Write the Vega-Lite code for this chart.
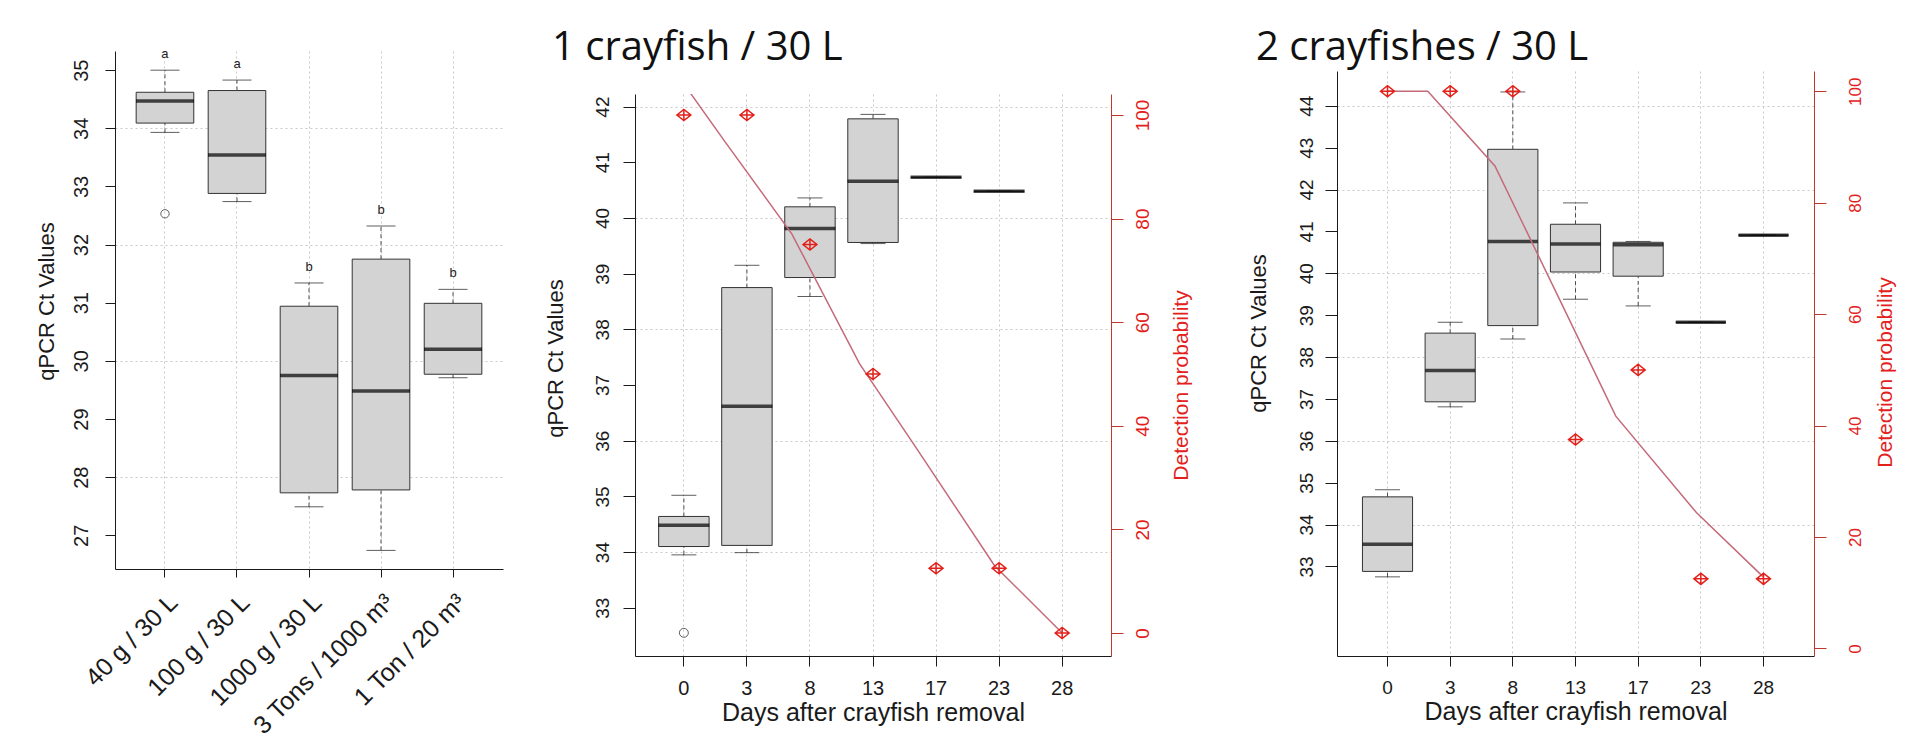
{
  "$schema": "https://vega.github.io/schema/vega-lite/v6.json",
  "background": "white",
  "padding": {"left": 34, "top": 27, "right": 5, "bottom": 5},
  "config": {
    "view": {"stroke": null},
    "axis": {
      "labelFont": "Liberation Sans", "titleFont": "Liberation Sans", "titleFontWeight": "normal",
      "labelColor": "#1a1a1a", "titleColor": "#1a1a1a", "domainColor": "#1a1a1a", "tickColor": "#1a1a1a",
      "labelOverlap": false, "labelFlush": false, "gridColor": "#c8c8c8", "gridDash": [2, 3], "gridWidth": 1
    },
    "title": {"font": "Open Sans", "fontSize": 40, "fontWeight": "normal", "anchor": "start", "frame": "group", "baseline": "alphabetic", "color": "#111111"}
  },
  "datasets": {
    "left_box": [
      {"group": "40 g / 30 L", "lo": 33.93, "q1": 34.09, "med": 34.47, "q3": 34.62, "hi": 35.0, "letter": "a"},
      {"group": "100 g / 30 L", "lo": 32.74, "q1": 32.88, "med": 33.54, "q3": 34.65, "hi": 34.83, "letter": "a"},
      {"group": "1000 g / 30 L", "lo": 27.49, "q1": 27.73, "med": 29.75, "q3": 30.94, "hi": 31.34, "letter": "b"},
      {"group": "3 Tons / 1000 m³", "lo": 26.74, "q1": 27.78, "med": 29.48, "q3": 31.75, "hi": 32.32, "letter": "b"},
      {"group": "1 Ton / 20 m³", "lo": 29.71, "q1": 29.77, "med": 30.2, "q3": 30.99, "hi": 31.23, "letter": "b"}
    ],
    "left_out": [{"group": "40 g / 30 L", "value": 32.53}],
    "mid_box": [
      {"day": "0", "lo": 33.95, "q1": 34.1, "med": 34.48, "q3": 34.64, "hi": 35.02},
      {"day": "3", "lo": 33.99, "q1": 34.12, "med": 36.62, "q3": 38.75, "hi": 39.15},
      {"day": "8", "lo": 38.59, "q1": 38.93, "med": 39.81, "q3": 40.2, "hi": 40.36},
      {"day": "13", "lo": 39.54, "q1": 39.56, "med": 40.66, "q3": 41.78, "hi": 41.86},
      {"day": "17", "lo": 40.73, "q1": 40.73, "med": 40.73, "q3": 40.73, "hi": 40.73},
      {"day": "23", "lo": 40.48, "q1": 40.48, "med": 40.48, "q3": 40.48, "hi": 40.48}
    ],
    "mid_out": [{"day": "0", "value": 32.55}],
    "mid_det": [
      {"day": "0", "pct": 100}, {"day": "3", "pct": 100}, {"day": "8", "pct": 75}, {"day": "13", "pct": 50},
      {"day": "17", "pct": 12.5}, {"day": "23", "pct": 12.5}, {"day": "28", "pct": 0}
    ],
    "mid_fit": [
      {"days": 0, "fit": 106}, {"days": 3, "fit": 95}, {"days": 8, "fit": 77}, {"days": 13, "fit": 52},
      {"days": 17, "fit": 36.5}, {"days": 23, "fit": 13}, {"days": 28, "fit": 0}
    ],
    "right_box": [
      {"day": "0", "lo": 32.75, "q1": 32.88, "med": 33.53, "q3": 34.66, "hi": 34.83},
      {"day": "3", "lo": 36.81, "q1": 36.93, "med": 37.68, "q3": 38.57, "hi": 38.83},
      {"day": "8", "lo": 38.43, "q1": 38.75, "med": 40.76, "q3": 42.96, "hi": 44.33},
      {"day": "13", "lo": 39.38, "q1": 40.03, "med": 40.7, "q3": 41.17, "hi": 41.68},
      {"day": "17", "lo": 39.22, "q1": 39.93, "med": 40.68, "q3": 40.74, "hi": 40.76},
      {"day": "23", "lo": 38.83, "q1": 38.83, "med": 38.83, "q3": 38.83, "hi": 38.83},
      {"day": "28", "lo": 40.91, "q1": 40.91, "med": 40.91, "q3": 40.91, "hi": 40.91}
    ],
    "right_det": [
      {"day": "0", "pct": 100}, {"day": "3", "pct": 100}, {"day": "8", "pct": 100}, {"day": "13", "pct": 37.5},
      {"day": "17", "pct": 50}, {"day": "23", "pct": 12.5}, {"day": "28", "pct": 12.5}
    ],
    "right_fit": [
      {"days": 0, "fit": 100}, {"days": 3, "fit": 100}, {"days": 8, "fit": 86.6}, {"days": 13, "fit": 61.7},
      {"days": 17, "fit": 41.7}, {"days": 23, "fit": 24.4}, {"days": 28, "fit": 12.8}
    ]
  },
  "spacing": 40,
  "hconcat": [
    {
      "width": 388,
      "height": 518,
      "data": {"name": "left_box"},
      "encoding": {
        "x": {
          "field": "group", "type": "nominal", "sort": null,
          "scale": {"type": "band", "domain": ["40 g / 30 L", "100 g / 30 L", "1000 g / 30 L", "3 Tons / 1000 m³", "1 Ton / 20 m³"], "paddingInner": 0.2, "paddingOuter": 0.294},
          "axis": {"title": null, "labelAngle": -45, "labelAlign": "right", "labelBaseline": "middle", "labelFontSize": 25, "labelLimit": 0, "tickSize": 8, "labelPadding": 21, "labelOffset": 8.5, "grid": true, "bandPosition": 0.5}
        }
      },
      "layer": [
        {
          "mark": {"type": "rule", "color": "#4d4d4d", "strokeDash": [4, 3]},
          "encoding": {
            "y": {
              "field": "lo", "type": "quantitative",
              "scale": {"domain": [26.42, 35.33], "nice": false, "zero": false},
              "axis": {
                "title": "qPCR Ct Values", "values": [27, 28, 29, 30, 31, 32, 33, 34, 35], "format": "d", "labelAngle": -90,
                "labelFontSize": 20, "titleFontSize": 22, "tickSize": 10, "labelPadding": 13.5, "titlePadding": 13.5, "titleY": 250,
                "grid": true, "gridOpacity": {"condition": {"test": "datum.value % 2 === 0", "value": 1}, "value": 0}
              }
            },
            "y2": {"field": "q1"}
          }
        },
        {
          "mark": {"type": "rule", "color": "#4d4d4d", "strokeDash": [4, 3]},
          "encoding": {"y": {"field": "q3", "type": "quantitative"}, "y2": {"field": "hi"}}
        },
        {
          "mark": {"type": "tick", "size": 29, "thickness": 1, "color": "#1a1a1a"},
          "encoding": {"y": {"field": "lo", "type": "quantitative"}}
        },
        {
          "mark": {"type": "tick", "size": 29, "thickness": 1, "color": "#1a1a1a"},
          "encoding": {"y": {"field": "hi", "type": "quantitative"}}
        },
        {
          "mark": {"type": "bar", "fill": "#d3d3d3", "stroke": "#333333", "strokeWidth": 1},
          "encoding": {"y": {"field": "q1", "type": "quantitative"}, "y2": {"field": "q3"}}
        },
        {
          "mark": {"type": "tick", "size": 58, "thickness": 3.5, "color": "#000000"},
          "encoding": {"y": {"field": "med", "type": "quantitative"}}
        },
        {
          "mark": {"type": "text", "dy": -16, "fontSize": 13, "font": "Liberation Sans", "color": "#1a1a1a"},
          "encoding": {"y": {"field": "hi", "type": "quantitative"}, "text": {"field": "letter"}}
        },
        {
          "data": {"name": "left_out"},
          "mark": {"type": "point", "shape": "circle", "filled": false, "size": 70, "color": "#1a1a1a", "strokeWidth": 1},
          "encoding": {"y": {"field": "value", "type": "quantitative"}}
        }
      ]
    },
    {
      "spacing": 0,
      "vconcat": [
        {
          "width": 571, "height": 43,
          "title": {"text": "1 crayfish / 30 L", "offset": -16.6, "dx": -83},
          "data": {"values": []}, "mark": "point"
        },
        {
          "width": 476,
          "height": 562,
          "layer": [
            {
              "data": {"name": "mid_box"},
              "encoding": {
                "x": {
                  "field": "day", "type": "ordinal", "sort": null,
                  "scale": {"type": "band", "domain": ["0", "3", "8", "13", "17", "23", "28"], "paddingInner": 0.2, "paddingOuter": 0.375},
                  "axis": {"title": "Days after crayfish removal", "titleFontSize": 25, "labelFontSize": 20, "labelAngle": 0, "tickSize": 10, "labelPadding": 12, "titlePadding": 2, "grid": true, "bandPosition": 0.5}
                }
              },
              "layer": [
                {
                  "mark": {"type": "rule", "color": "#4d4d4d", "strokeDash": [4, 3]},
                  "encoding": {
                    "y": {
                      "field": "lo", "type": "quantitative",
                      "scale": {"domain": [32.134, 42.226], "nice": false, "zero": false},
                      "axis": {
                        "title": "qPCR Ct Values", "values": [33, 34, 35, 36, 37, 38, 39, 40, 41, 42], "format": "d", "labelAngle": -90,
                        "labelFontSize": 19, "titleFontSize": 22, "tickSize": 12, "labelPadding": 11, "titlePadding": 26, "titleY": 264,
                        "grid": true, "gridOpacity": {"condition": {"test": "datum.value % 2 === 0", "value": 1}, "value": 0}
                      }
                    },
                    "y2": {"field": "q1"}
                  }
                },
                {
                  "mark": {"type": "rule", "color": "#4d4d4d", "strokeDash": [4, 3]},
                  "encoding": {"y": {"field": "q3", "type": "quantitative"}, "y2": {"field": "hi"}}
                },
                {
                  "mark": {"type": "tick", "size": 25, "thickness": 1, "color": "#1a1a1a"},
                  "encoding": {"y": {"field": "lo", "type": "quantitative"}}
                },
                {
                  "mark": {"type": "tick", "size": 25, "thickness": 1, "color": "#1a1a1a"},
                  "encoding": {"y": {"field": "hi", "type": "quantitative"}}
                },
                {
                  "mark": {"type": "bar", "fill": "#d3d3d3", "stroke": "#333333", "strokeWidth": 1},
                  "encoding": {"y": {"field": "q1", "type": "quantitative"}, "y2": {"field": "q3"}}
                },
                {
                  "mark": {"type": "tick", "size": 51, "thickness": 3.5, "color": "#000000"},
                  "encoding": {"y": {"field": "med", "type": "quantitative"}}
                },
                {
                  "data": {"name": "mid_out"},
                  "mark": {"type": "point", "shape": "circle", "filled": false, "size": 80, "color": "#1a1a1a", "strokeWidth": 1},
                  "encoding": {"y": {"field": "value", "type": "quantitative"}}
                }
              ]
            },
            {
              "data": {"name": "mid_fit"},
              "mark": {"type": "line", "clip": true, "color": "#c46a78", "strokeWidth": 1.5},
              "encoding": {
                "x": {"field": "days", "type": "quantitative", "scale": {"domain": [-3.617, 31.617], "nice": false, "zero": false}, "axis": null},
                "y": {"field": "fit", "type": "quantitative", "scale": {"domain": [-4.44, 104.05], "nice": false, "zero": false}, "axis": null}
              }
            },
            {
              "data": {"name": "mid_det"},
              "mark": {"type": "point", "shape": "M-1,0L0,-0.8L1,0L0,0.8ZM-1,0L1,0M0,-0.8L0,0.8", "filled": false, "size": 196, "color": "#e3211b", "strokeWidth": 1.5, "opacity": 1},
              "encoding": {
                "x": {
                  "field": "day", "type": "ordinal", "sort": null,
                  "scale": {"type": "band", "domain": ["0", "3", "8", "13", "17", "23", "28"], "paddingInner": 0.2, "paddingOuter": 0.375},
                  "axis": null
                },
                "y": {
                  "field": "pct", "type": "quantitative",
                  "scale": {"domain": [-4.44, 104.05], "nice": false, "zero": false},
                  "axis": {
                    "orient": "right", "title": "Detection probability", "values": [0, 20, 40, 60, 80, 100],
                    "labelAngle": -90, "titleAngle": -90, "titleBaseline": "top", "labelFontSize": 19, "titleFontSize": 21,
                    "tickSize": 12, "labelPadding": 10, "titlePadding": 18, "titleY": 291, "grid": false,
                    "labelColor": "#e3211b", "titleColor": "#e3211b", "domainColor": "#c0392b", "tickColor": "#c0392b"
                  }
                }
              }
            }
          ],
          "resolve": {"scale": {"x": "independent", "y": "independent"}}
        }
      ]
    },
    {
      "spacing": 0,
      "vconcat": [
        {
          "width": 477, "height": 20,
          "title": {"text": "2 crayfishes / 30 L", "offset": -17, "dx": -81},
          "data": {"values": []}, "mark": "point"
        },
        {
          "width": 477,
          "height": 585,
          "layer": [
            {
              "data": {"name": "right_box"},
              "encoding": {
                "x": {
                  "field": "day", "type": "ordinal", "sort": null,
                  "scale": {"type": "band", "domain": ["0", "3", "8", "13", "17", "23", "28"], "paddingInner": 0.2, "paddingOuter": 0.406},
                  "axis": {"title": "Days after crayfish removal", "titleFontSize": 25, "labelFontSize": 19, "labelAngle": 0, "tickSize": 10, "labelPadding": 12, "titlePadding": 2, "grid": true, "bandPosition": 0.5}
                }
              },
              "layer": [
                {
                  "mark": {"type": "rule", "color": "#4d4d4d", "strokeDash": [4, 3]},
                  "encoding": {
                    "y": {
                      "field": "lo", "type": "quantitative",
                      "scale": {"domain": [30.86, 44.83], "nice": false, "zero": false},
                      "axis": {
                        "title": "qPCR Ct Values", "values": [33, 34, 35, 36, 37, 38, 39, 40, 41, 42, 43, 44], "format": "d", "labelAngle": -90,
                        "labelFontSize": 19, "titleFontSize": 22, "tickSize": 12, "labelPadding": 9, "titlePadding": 27, "titleY": 262,
                        "grid": true, "gridOpacity": {"condition": {"test": "datum.value % 2 === 0", "value": 1}, "value": 0}
                      }
                    },
                    "y2": {"field": "q1"}
                  }
                },
                {
                  "mark": {"type": "rule", "color": "#4d4d4d", "strokeDash": [4, 3]},
                  "encoding": {"y": {"field": "q3", "type": "quantitative"}, "y2": {"field": "hi"}}
                },
                {
                  "mark": {"type": "tick", "size": 25, "thickness": 1, "color": "#1a1a1a"},
                  "encoding": {"y": {"field": "lo", "type": "quantitative"}}
                },
                {
                  "mark": {"type": "tick", "size": 25, "thickness": 1, "color": "#1a1a1a"},
                  "encoding": {"y": {"field": "hi", "type": "quantitative"}}
                },
                {
                  "mark": {"type": "bar", "fill": "#d3d3d3", "stroke": "#333333", "strokeWidth": 1},
                  "encoding": {"y": {"field": "q1", "type": "quantitative"}, "y2": {"field": "q3"}}
                },
                {
                  "mark": {"type": "tick", "size": 50, "thickness": 3.5, "color": "#000000"},
                  "encoding": {"y": {"field": "med", "type": "quantitative"}}
                }
              ]
            },
            {
              "data": {"name": "right_fit"},
              "mark": {"type": "line", "clip": true, "color": "#c46a78", "strokeWidth": 1.5},
              "encoding": {
                "x": {"field": "days", "type": "quantitative", "scale": {"domain": [-3.761, 31.761], "nice": false, "zero": false}, "axis": null},
                "y": {"field": "fit", "type": "quantitative", "scale": {"domain": [-1.35, 103.64], "nice": false, "zero": false}, "axis": null}
              }
            },
            {
              "data": {"name": "right_det"},
              "mark": {"type": "point", "shape": "M-1,0L0,-0.8L1,0L0,0.8ZM-1,0L1,0M0,-0.8L0,0.8", "filled": false, "size": 196, "color": "#e3211b", "strokeWidth": 1.5, "opacity": 1},
              "encoding": {
                "x": {
                  "field": "day", "type": "ordinal", "sort": null,
                  "scale": {"type": "band", "domain": ["0", "3", "8", "13", "17", "23", "28"], "paddingInner": 0.2, "paddingOuter": 0.406},
                  "axis": null
                },
                "y": {
                  "field": "pct", "type": "quantitative",
                  "scale": {"domain": [-1.35, 103.64], "nice": false, "zero": false},
                  "axis": {
                    "orient": "right", "title": "Detection probability", "values": [0, 20, 40, 60, 80, 100],
                    "labelAngle": -90, "titleAngle": -90, "titleBaseline": "top", "labelFontSize": 17, "titleFontSize": 21,
                    "tickSize": 12, "labelPadding": 21, "titlePadding": 11, "titleY": 301, "grid": false,
                    "labelColor": "#e3211b", "titleColor": "#e3211b", "domainColor": "#c0392b", "tickColor": "#c0392b"
                  }
                }
              }
            }
          ],
          "resolve": {"scale": {"x": "independent", "y": "independent"}}
        }
      ]
    }
  ]
}
